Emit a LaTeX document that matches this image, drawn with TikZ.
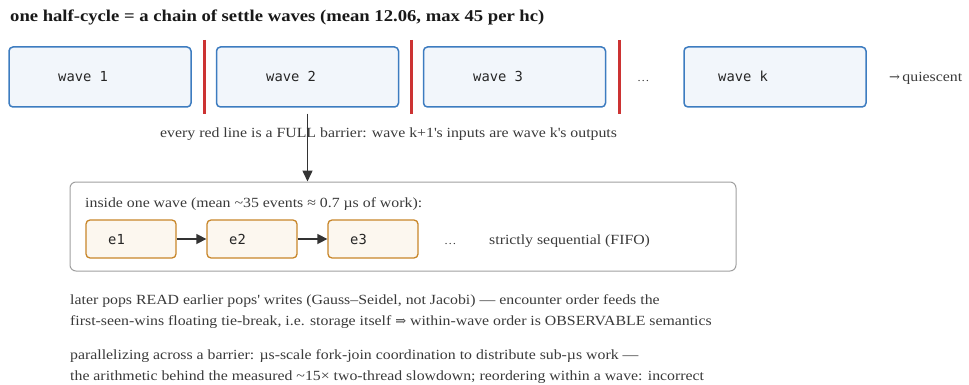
\documentclass[tikz,border=0pt]{standalone}
\usepackage{fontspec}
\setmainfont{Liberation Serif}[FakeStretch=1.13]
\setmonofont{DejaVu Sans Mono}
\newfontfamily\symfont{DejaVu Serif}
\usetikzlibrary{arrows.meta}
\definecolor{wavefill}{HTML}{F2F6FB}
\definecolor{waveline}{HTML}{3D7CC0}
\definecolor{evfill}{HTML}{FCF7EF}
\definecolor{evline}{HTML}{C8862A}
\definecolor{barrier}{HTML}{CC3333}
\definecolor{txt}{HTML}{3A3A3A}
\definecolor{frame}{HTML}{A0A0A0}
\newcommand{\sq}{\textquotesingle}
\tikzset{
  wavebox/.style={draw=waveline,fill=wavefill,line width=1.5pt,rounded corners=4pt,minimum width=182pt,minimum height=60pt,inner sep=0pt},
  evbox/.style={draw=evline,fill=evfill,line width=1.3pt,rounded corners=4pt,minimum width=90pt,minimum height=38pt,inner sep=0pt},
  monolbl/.style={anchor=base west,inner sep=0pt,font=\ttfamily\fontsize{13.8}{16}\selectfont,text=black!85},
  bodytxt/.style={anchor=base west,inner sep=0pt,font=\fontsize{14}{16}\selectfont,text=txt},
  barline/.style={draw=barrier,line width=3pt},
  arr/.style={draw=black!80,line width=1.5pt,-{Triangle[length=11pt,width=10pt]}},
}
\begin{document}
\begin{tikzpicture}[x=1pt,y=-1pt]
\useasboundingbox (0,0) rectangle (969,385);
% title
\node[anchor=base west,inner sep=0pt,font=\bfseries\fontsize{16.5}{19}\selectfont,text=black!90] (title) at (10,22) {one half-cycle = a chain of settle waves (mean 12.06, max 45 per hc)};
% waves
\node[wavebox] (w1) at (100,77) {};
\node[wavebox] (w2) at (307.5,77) {};
\node[wavebox] (w3) at (514.5,77) {};
\node[wavebox] (wk) at (775,77) {};
\node[monolbl] (l1) at (58,82) {wave 1};
\node[monolbl] (l2) at (266,82) {wave 2};
\node[monolbl] (l3) at (473,82) {wave 3};
\node[monolbl] (lk) at (718,82) {wave k};
\node[bodytxt] (dots1) at (637,82) {\fontsize{11}{13}\selectfont …};
\node[bodytxt] (quies) at (889,82) {{\symfont\fontsize{13}{15}\selectfont →}\,quiescent};
% barriers
\draw[barline] (204,40) -- (204,114);
\draw[barline] (411,40) -- (411,114);
\draw[barline] (619,40) -- (619,114);
\node[bodytxt] (barrtxt) at (160,138) {every red line is a FULL barrier: wave k+1\sq s inputs are wave k\sq s outputs};
% container
\node[draw=frame,line width=1pt,rounded corners=6pt,minimum width=666pt,minimum height=89pt,inner sep=0pt] (cont) at (403,226.5) {};
\draw[arr] ([yshift=-6pt]w2.south) -- (w2.south |- cont.north);
\node[bodytxt] (inside) at (85,207) {inside one wave (mean \textasciitilde35 events ≈ 0.7 µs of work):};
\node[evbox] (e1) at (131,239) {};
\node[evbox] (e2) at (252,239) {};
\node[evbox] (e3) at (373,239) {};
\node[monolbl] (le1) at (108,244) {e1};
\node[monolbl] (le2) at (229,244) {e2};
\node[monolbl] (le3) at (350,244) {e3};
\draw[arr,-{Triangle[length=10pt,width=10pt]}] (e1.east) -- (e2.west);
\draw[arr,-{Triangle[length=10pt,width=10pt]}] (e2.east) -- (e3.west);
\node[bodytxt] (dots2) at (444,244) {\fontsize{11}{13}\selectfont …};
\node[bodytxt] (fifo) at (489,244) {strictly sequential (FIFO)};
% notes
\node[bodytxt] (n1) at (70,304) {later pops READ earlier pops\sq{} writes (Gauss–Seidel, not Jacobi) — encounter order feeds the};
\node[bodytxt] (n2) at (70,325) {first-seen-wins floating tie-break, i.e. storage itself {\symfont\fontsize{13}{15}\selectfont ⇒} within-wave order is OBSERVABLE semantics};
\node[bodytxt] (n3) at (70,359) {parallelizing across a barrier: µs-scale fork-join coordination to distribute sub-µs work —};
\node[bodytxt] (n4) at (70,380) {the arithmetic behind the measured \textasciitilde15× two-thread slowdown; reordering within a wave: incorrect};
\end{tikzpicture}
\end{document}
